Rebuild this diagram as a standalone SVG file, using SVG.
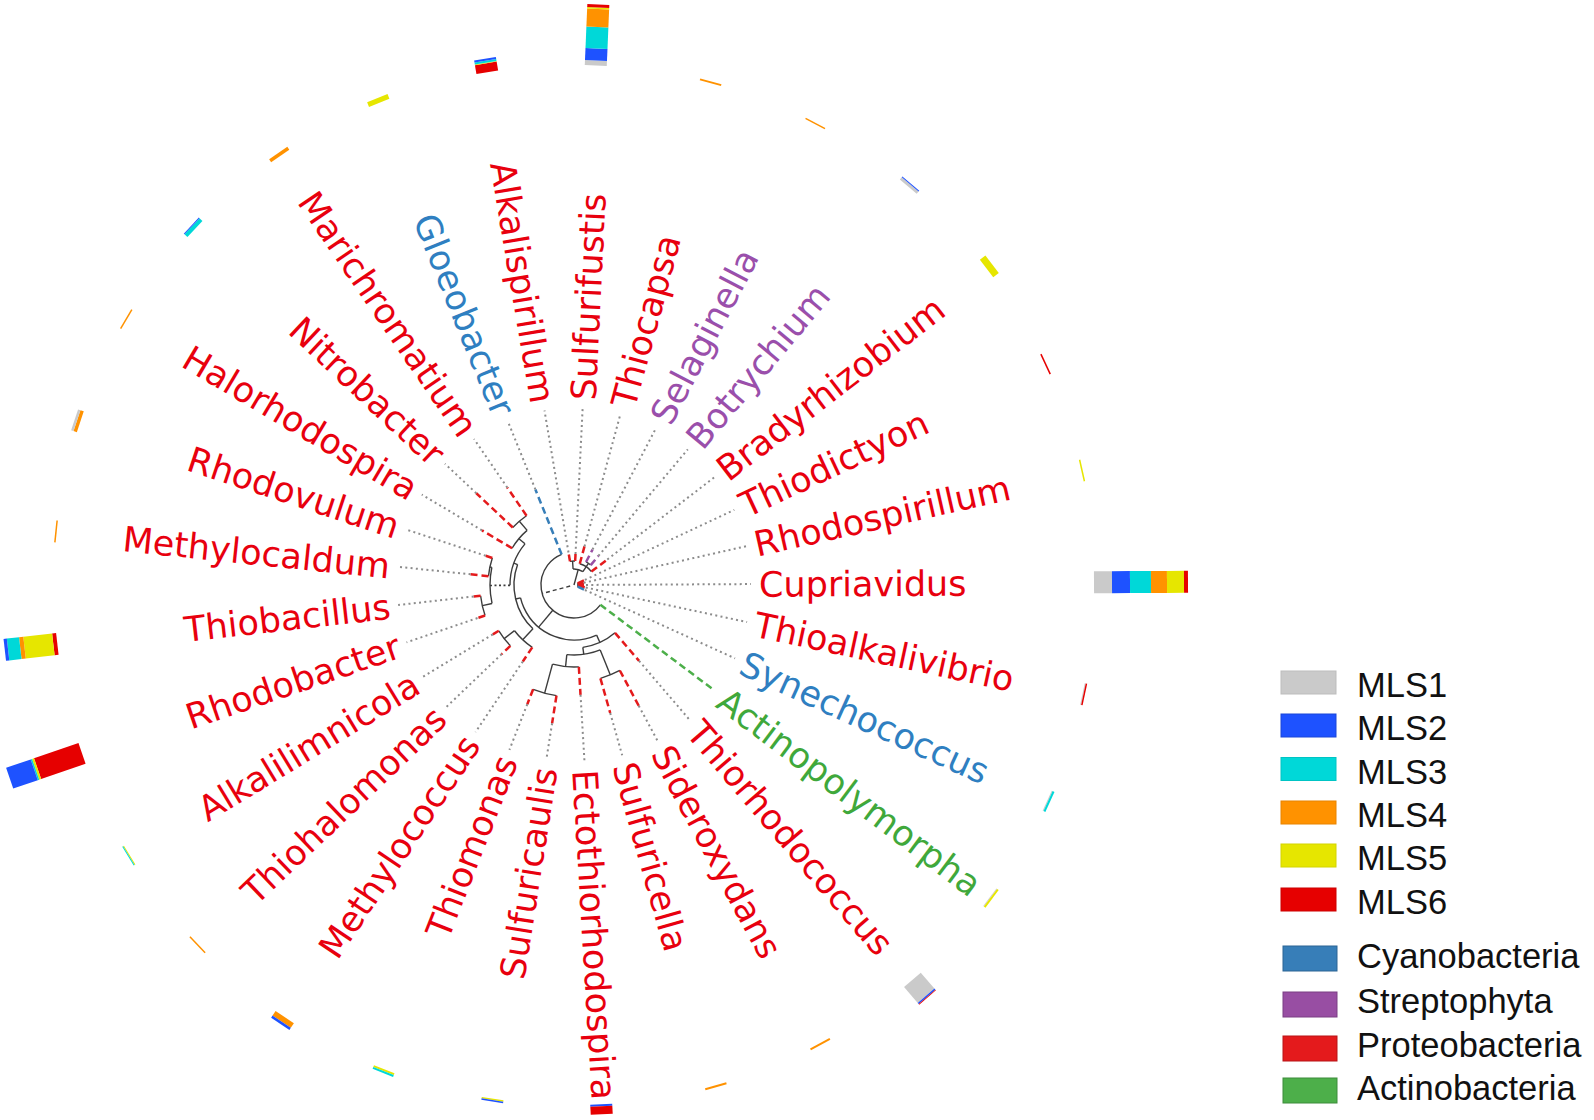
<svg xmlns="http://www.w3.org/2000/svg" width="1594" height="1120" viewBox="0 0 1594 1120">
<style>
.lab{font-family:"DejaVu Sans",Verdana,sans-serif;font-size:35px}
.p{fill:#e8000e}.c{fill:#2f7fc1}.s{fill:#9a4fab}.a{fill:#3fa83b}
.leg{font-family:"Liberation Sans",Arial,sans-serif;font-size:34.5px;fill:#111}
.k{stroke:#3c3c3c;stroke-width:1.4;fill:none}
.kd{stroke:#3c3c3c;stroke-width:1.4;stroke-dasharray:4 3;fill:none}
.kt{stroke:#3c3c3c;stroke-width:1.6;stroke-dasharray:2 2.5;fill:none}
.dot{stroke:#8c8c8c;stroke-width:2;stroke-dasharray:2 3.3;fill:none}
.tr{stroke:#e41a1c;stroke-width:2.5;stroke-dasharray:7 4}
.tb{stroke:#377eb8;stroke-width:2.5;stroke-dasharray:7 4}
.tv{stroke:#984ea3;stroke-width:2.5;stroke-dasharray:7 4}
.tg{stroke:#4daf4a;stroke-width:2.5;stroke-dasharray:7 4}
.m1{fill:#cacaca}.m2{fill:#1e52ff}.m3{fill:#00d8d8}.m4{fill:#ff9200}.m5{fill:#e6e600}.m6{fill:#e60000}
</style>
<g transform="translate(574 585)">
<g id="connectors">
<!-- center clade -->
<circle class="k" r="4" pathLength="360" stroke-dasharray="49.6 400" transform="rotate(334.9)"/>
<line class="tr" x1="4" x2="12" transform="rotate(334.9)"/>
<line class="tr" x1="4" x2="10" transform="rotate(347.3)"/>
<line class="tr" x1="4" x2="10" transform="rotate(-0.3)"/>
<line class="tr" x1="4" x2="12" transform="rotate(12.1)"/>
<line class="tb" x1="4" x2="12" transform="rotate(24.5)"/>
<!-- upper clade -->
<line class="k" x1="0" x2="16" transform="rotate(285.2)"/>
<circle class="k" r="16" pathLength="360" stroke-dasharray="37.2 400" transform="rotate(266.6)"/>
<line class="k" x1="16" x2="24" transform="rotate(266.6)"/>
<circle class="k" r="24" pathLength="360" stroke-dasharray="12.4 400" transform="rotate(260.4)"/>
<line class="tr" x1="24" x2="33" transform="rotate(260.4)"/>
<line class="tr" x1="24" x2="31" transform="rotate(272.8)"/>
<line class="k" x1="16" x2="22" transform="rotate(303.8)"/>
<circle class="k" r="22" pathLength="360" stroke-dasharray="37.3 400" transform="rotate(285.2)"/>
<line class="tr" x1="22" x2="40" transform="rotate(285.2)"/>
<line class="k" x1="22" x2="26" transform="rotate(303.8)"/>
<circle class="k" r="26" pathLength="360" stroke-dasharray="12.4 400" transform="rotate(297.6)"/>
<line class="tv" x1="26" x2="40" transform="rotate(297.6)"/>
<line class="tv" x1="26" x2="38" transform="rotate(310)"/>
<line class="tr" x1="22" x2="42" transform="rotate(322.5)"/>
<!-- big clade -->
<line class="kd" x1="4" x2="33" transform="rotate(165)"/>
<circle class="k" r="33" pathLength="360" stroke-dasharray="211.1 400" transform="rotate(36.9)"/>
<line class="tg" x1="33" x2="172" transform="rotate(36.9)"/>
<line class="tb" x1="33" x2="103" transform="rotate(248)"/>
<line class="k" x1="33" x2="55" transform="rotate(130)"/>
<circle class="k" r="55" pathLength="360" stroke-dasharray="100.8 400" transform="rotate(65.7)"/>
<!-- lower clade -->
<line class="k" x1="55" x2="63" transform="rotate(65.7)"/>
<circle class="k" r="63" pathLength="360" stroke-dasharray="32.55 400" transform="rotate(49.4)"/>
<line class="tr" x1="63" x2="100" transform="rotate(49.4)"/>
<line class="k" x1="63" x2="70" transform="rotate(81.95)"/>
<circle class="k" r="70" pathLength="360" stroke-dasharray="27.9 400" transform="rotate(68)"/>
<line class="k" x1="70" x2="97" transform="rotate(68)"/>
<circle class="k" r="97" pathLength="360" stroke-dasharray="12.4 400" transform="rotate(61.8)"/>
<line class="tr" x1="97" x2="137" transform="rotate(61.8)"/>
<line class="tr" x1="97" x2="133" transform="rotate(74.2)"/>
<line class="k" x1="70" x2="82" transform="rotate(95.9)"/>
<circle class="k" r="82" pathLength="360" stroke-dasharray="18.6 400" transform="rotate(86.6)"/>
<line class="tr" x1="82" x2="110" transform="rotate(86.6)"/>
<line class="k" x1="82" x2="112" transform="rotate(105.2)"/>
<circle class="k" r="112" pathLength="360" stroke-dasharray="12.4 400" transform="rotate(99)"/>
<line class="tr" x1="112" x2="140" transform="rotate(99)"/>
<line class="tr" x1="112" x2="128" transform="rotate(111.4)"/>
<!-- left clade -->
<line class="k" x1="55" x2="60" transform="rotate(166.5)"/>
<circle class="k" r="60" pathLength="360" stroke-dasharray="66.75 400" transform="rotate(133.15)"/>
<line class="k" x1="60" x2="75" transform="rotate(133.15)"/>
<circle class="k" r="75" pathLength="360" stroke-dasharray="18.7 400" transform="rotate(123.8)"/>
<line class="tr" x1="75" x2="92" transform="rotate(123.8)"/>
<line class="k" x1="75" x2="88" transform="rotate(142.5)"/>
<circle class="k" r="88" pathLength="360" stroke-dasharray="12.4 400" transform="rotate(136.3)"/>
<line class="tr" x1="88" x2="100" transform="rotate(136.3)"/>
<line class="tr" x1="88" x2="95" transform="rotate(148.7)"/>
<line class="k" x1="60" x2="64" transform="rotate(199.9)"/>
<circle class="k" r="64" pathLength="360" stroke-dasharray="40.35 400" transform="rotate(179.7)"/>
<line class="kt" x1="64" x2="84" transform="rotate(179.7)"/>
<circle class="k" r="84" pathLength="360" stroke-dasharray="24.8 400" transform="rotate(167.3)"/>
<line class="k" x1="84" x2="94" transform="rotate(167.3)"/>
<circle class="k" r="94" pathLength="360" stroke-dasharray="12.4 400" transform="rotate(161.1)"/>
<line class="tr" x1="94" x2="102" transform="rotate(161.1)"/>
<line class="tr" x1="94" x2="101" transform="rotate(173.5)"/>
<line class="k" x1="84" x2="86" transform="rotate(192.1)"/>
<circle class="k" r="86" pathLength="360" stroke-dasharray="12.4 400" transform="rotate(185.9)"/>
<line class="tr" x1="86" x2="104" transform="rotate(185.9)"/>
<line class="tr" x1="86" x2="93" transform="rotate(198.3)"/>
<line class="k" x1="64" x2="72" transform="rotate(220.05)"/>
<circle class="k" r="72" pathLength="360" stroke-dasharray="18.7 400" transform="rotate(210.7)"/>
<line class="tr" x1="72" x2="107" transform="rotate(210.7)"/>
<line class="k" x1="72" x2="84" transform="rotate(229.4)"/>
<circle class="k" r="84" pathLength="360" stroke-dasharray="12.4 400" transform="rotate(223.2)"/>
<line class="tr" x1="84" x2="134" transform="rotate(223.2)"/>
<line class="tr" x1="84" x2="118" transform="rotate(235.6)"/>
<!-- dotted label guides -->
<line class="dot" x1="12" x2="177" transform="rotate(-0.3)"/>
<line class="dot" x1="12" x2="177" transform="rotate(12.1)"/>
<line class="dot" x1="12" x2="177" transform="rotate(24.5)"/>
<line class="dot" x1="100" x2="177" transform="rotate(49.4)"/>
<line class="dot" x1="137" x2="177" transform="rotate(61.8)"/>
<line class="dot" x1="133" x2="177" transform="rotate(74.2)"/>
<line class="dot" x1="110" x2="177" transform="rotate(86.6)"/>
<line class="dot" x1="140" x2="177" transform="rotate(99)"/>
<line class="dot" x1="128" x2="177" transform="rotate(111.4)"/>
<line class="dot" x1="92" x2="177" transform="rotate(123.8)"/>
<line class="dot" x1="100" x2="177" transform="rotate(136.3)"/>
<line class="dot" x1="95" x2="177" transform="rotate(148.7)"/>
<line class="dot" x1="102" x2="177" transform="rotate(161.1)"/>
<line class="dot" x1="101" x2="177" transform="rotate(173.5)"/>
<line class="dot" x1="104" x2="177" transform="rotate(185.9)"/>
<line class="dot" x1="93" x2="177" transform="rotate(198.3)"/>
<line class="dot" x1="107" x2="177" transform="rotate(210.7)"/>
<line class="dot" x1="134" x2="177" transform="rotate(223.2)"/>
<line class="dot" x1="118" x2="177" transform="rotate(235.6)"/>
<line class="dot" x1="103" x2="177" transform="rotate(248)"/>
<line class="dot" x1="33" x2="177" transform="rotate(260.4)"/>
<line class="dot" x1="31" x2="177" transform="rotate(272.8)"/>
<line class="dot" x1="40" x2="177" transform="rotate(285.2)"/>
<line class="dot" x1="40" x2="177" transform="rotate(297.6)"/>
<line class="dot" x1="38" x2="177" transform="rotate(310)"/>
<line class="dot" x1="42" x2="177" transform="rotate(322.5)"/>
<line class="dot" x1="12" x2="177" transform="rotate(334.9)"/>
<line class="dot" x1="10" x2="177" transform="rotate(347.3)"/>
</g>
<!-- taxa: label + stacked bar -->
<g id="t00"><text class="lab p" transform="rotate(-0.3) translate(185 0)" dy="12.7">Cupriavidus</text>
<g transform="rotate(-0.3)"><rect class="m1" x="520" y="-11" width="18" height="22"/><rect class="m2" x="538" y="-11" width="18" height="22"/><rect class="m3" x="556" y="-11" width="21" height="22"/><rect class="m4" x="577" y="-11" width="16" height="22"/><rect class="m5" x="593" y="-11" width="17" height="22"/><rect class="m6" x="610" y="-11" width="4" height="22"/></g></g>
<g id="t01"><text class="lab p" transform="rotate(12.1) translate(185 0)" dy="12.7">Thioalkalivibrio</text>
<g transform="rotate(12.1)"><rect class="m1" x="520" y="-11" width="1" height="22"/><rect class="m6" x="521" y="-11" width="1.5" height="22"/></g></g>
<g id="t02"><text class="lab c" transform="rotate(24.5) translate(185 0)" dy="12.7">Synechococcus</text>
<g transform="rotate(24.5)"><rect class="m1" x="520" y="-11" width="1" height="22"/><rect class="m3" x="521" y="-11" width="2" height="22"/></g></g>
<g id="t03"><text class="lab a" transform="rotate(36.9) translate(185 0)" dy="12.7">Actinopolymorpha</text>
<g transform="rotate(36.9)"><rect class="m1" x="520" y="-11" width="0.8" height="22"/><rect class="m5" x="520.8" y="-11" width="2" height="22"/></g></g>
<g id="t04"><text class="lab p" transform="rotate(49.4) translate(185 0)" dy="12.7">Thiorhodococcus</text>
<g transform="rotate(49.4)"><rect class="m1" x="520" y="-11" width="21" height="22"/><rect class="m2" x="541" y="-11" width="1.5" height="22"/><rect class="m6" x="542.5" y="-11" width="0.8" height="22"/></g></g>
<g id="t05"><text class="lab p" transform="rotate(61.8) translate(185 0)" dy="12.7">Sideroxydans</text>
<g transform="rotate(61.8)"><rect class="m4" x="520" y="-11" width="2" height="22"/></g></g>
<g id="t06"><text class="lab p" transform="rotate(74.2) translate(185 0)" dy="12.7">Sulfuricella</text>
<g transform="rotate(74.2)"><rect class="m4" x="520" y="-11" width="2" height="22"/></g></g>
<g id="t07"><text class="lab p" transform="rotate(86.6) translate(185 0)" dy="12.7">Ectothiorhodospira</text>
<g transform="rotate(87)"><rect class="m2" x="520" y="-11" width="2" height="22"/><rect class="m6" x="522" y="-11" width="8" height="22"/></g></g>
<g id="t08"><text class="lab p" transform="rotate(-81) translate(-185 0)" dy="12.7" text-anchor="end">Sulfuricaulis</text>
<g transform="rotate(99)"><rect class="m5" x="520" y="-11" width="1.5" height="22"/><rect class="m2" x="521.5" y="-11" width="1.5" height="22"/></g></g>
<g id="t09"><text class="lab p" transform="rotate(-68.6) translate(-185 0)" dy="12.7" text-anchor="end">Thiomonas</text>
<g transform="rotate(111.4)"><rect class="m5" x="520" y="-11" width="2" height="22"/><rect class="m3" x="522" y="-11" width="2" height="22"/></g></g>
<g id="t10"><text class="lab p" transform="rotate(-56.2) translate(-185 0)" dy="12.7" text-anchor="end">Methylococcus</text>
<g transform="rotate(123.8)"><rect class="m4" x="520" y="-11" width="5.5" height="22"/><rect class="m2" x="525.5" y="-11" width="2.5" height="22"/></g></g>
<g id="t11"><text class="lab p" transform="rotate(-43.7) translate(-185 0)" dy="12.7" text-anchor="end">Thiohalomonas</text>
<g transform="rotate(136.3)"><rect class="m4" x="520" y="-11" width="1.5" height="22"/></g></g>
<g id="t12"><text class="lab p" transform="rotate(-31.3) translate(-185 0)" dy="12.7" text-anchor="end">Alkalilimnicola</text>
<g transform="rotate(148.7)"><rect class="m5" x="520" y="-11" width="1" height="22"/><rect class="m3" x="521" y="-11" width="1" height="22"/></g></g>
<g id="t13"><text class="lab p" transform="rotate(-18.9) translate(-185 0)" dy="12.7" text-anchor="end">Rhodobacter</text>
<g transform="rotate(161.1)"><rect class="m6" x="520" y="-11" width="47" height="22"/><rect class="m5" x="567" y="-11" width="2" height="22"/><rect class="m3" x="569" y="-11" width="1.5" height="22"/><rect class="m2" x="570.5" y="-11" width="26" height="22"/></g></g>
<g id="t14"><text class="lab p" transform="rotate(-6.5) translate(-185 0)" dy="12.7" text-anchor="end">Thiobacillus</text>
<g transform="rotate(173.5)"><rect class="m6" x="520" y="-11" width="4" height="22"/><rect class="m5" x="524" y="-11" width="29" height="22"/><rect class="m4" x="553" y="-11" width="4.3" height="22"/><rect class="m3" x="557.3" y="-11" width="12.3" height="22"/><rect class="m2" x="569.6" y="-11" width="3.3" height="22"/></g></g>
<g id="t15"><text class="lab p" transform="rotate(5.9) translate(-185 0)" dy="12.7" text-anchor="end">Methylocaldum</text>
<g transform="rotate(185.9)"><rect class="m4" x="520" y="-11" width="1.5" height="22"/></g></g>
<g id="t16"><text class="lab p" transform="rotate(18.3) translate(-185 0)" dy="12.7" text-anchor="end">Rhodovulum</text>
<g transform="rotate(198.3)"><rect class="m4" x="520" y="-11" width="3.5" height="22"/><rect class="m1" x="523.5" y="-11" width="2.5" height="22"/></g></g>
<g id="t17"><text class="lab p" transform="rotate(30.7) translate(-185 0)" dy="12.7" text-anchor="end">Halorhodospira</text>
<g transform="rotate(210.7)"><rect class="m4" x="520" y="-11" width="1.5" height="22"/></g></g>
<g id="t18"><text class="lab p" transform="rotate(43.2) translate(-185 0)" dy="12.7" text-anchor="end">Nitrobacter</text>
<g transform="rotate(223.2)"><rect class="m3" x="520" y="-11" width="4" height="22"/><rect class="m2" x="524" y="-11" width="1" height="22"/></g></g>
<g id="t19"><text class="lab p" transform="rotate(55.6) translate(-185 0)" dy="12.7" text-anchor="end">Marichromatium</text>
<g transform="rotate(235.6)"><rect class="m4" x="520" y="-11" width="3.5" height="22"/></g></g>
<g id="t20"><text class="lab c" transform="rotate(68) translate(-185 0)" dy="12.7" text-anchor="end">Gloeobacter</text>
<g transform="rotate(248)"><rect class="m5" x="520" y="-11" width="5" height="22"/></g></g>
<g id="t21"><text class="lab p" transform="rotate(80.4) translate(-185 0)" dy="12.7" text-anchor="end">Alkalispirillum</text>
<g transform="rotate(260.4)"><rect class="m6" x="520" y="-11" width="9" height="22"/><rect class="m5" x="529" y="-11" width="0.7" height="22"/><rect class="m3" x="529.7" y="-11" width="2" height="22"/><rect class="m2" x="531.7" y="-11" width="2" height="22"/></g></g>
<g id="t22"><text class="lab p" transform="rotate(272.8) translate(185 0)" dy="12.7">Sulfurifustis</text>
<g transform="rotate(272.4)"><rect class="m1" x="520" y="-11" width="5" height="22"/><rect class="m2" x="525" y="-11" width="12" height="22"/><rect class="m3" x="537" y="-11" width="21.5" height="22"/><rect class="m4" x="558.5" y="-11" width="18" height="22"/><rect class="m5" x="576.5" y="-11" width="1.5" height="22"/><rect class="m6" x="578" y="-11" width="3" height="22"/></g></g>
<g id="t23"><text class="lab p" transform="rotate(285.2) translate(185 0)" dy="12.7">Thiocapsa</text>
<g transform="rotate(285.2)"><rect class="m4" x="520" y="-11" width="2" height="22"/></g></g>
<g id="t24"><text class="lab s" transform="rotate(297.6) translate(185 0)" dy="12.7">Selaginella</text>
<g transform="rotate(297.6)"><rect class="m4" x="520" y="-11" width="1.5" height="22"/></g></g>
<g id="t25"><text class="lab s" transform="rotate(310) translate(185 0)" dy="12.7">Botrychium</text>
<g transform="rotate(310)"><rect class="m1" x="520" y="-11" width="3" height="22"/><rect class="m2" x="523" y="-11" width="1" height="22"/></g></g>
<g id="t26"><text class="lab p" transform="rotate(322.5) translate(185 0)" dy="12.7">Bradyrhizobium</text>
<g transform="rotate(322.5)"><rect class="m5" x="520" y="-11" width="7" height="22"/></g></g>
<g id="t27"><text class="lab p" transform="rotate(334.9) translate(185 0)" dy="12.7">Thiodictyon</text>
<g transform="rotate(334.9)"><rect class="m6" x="520" y="-11" width="1.5" height="22"/></g></g>
<g id="t28"><text class="lab p" transform="rotate(347.3) translate(185 0)" dy="12.7">Rhodospirillum</text>
<g transform="rotate(347.3)"><rect class="m5" x="520" y="-11" width="1.5" height="22"/></g></g>
</g>
<g id="legend">
<g id="leg-mls1"><rect x="1281" y="671" width="55" height="23" fill="#cacaca" stroke="#bdbdbd"/><text class="leg" x="1357" y="697">MLS1</text></g>
<g id="leg-mls2"><rect x="1281" y="714" width="55" height="23" fill="#1e52ff" stroke="#1a46d8"/><text class="leg" x="1357" y="740">MLS2</text></g>
<g id="leg-mls3"><rect x="1281" y="757.5" width="55" height="23" fill="#00d8d8" stroke="#00c4c4"/><text class="leg" x="1357" y="784">MLS3</text></g>
<g id="leg-mls4"><rect x="1281" y="801" width="55" height="23" fill="#ff9200" stroke="#e88400"/><text class="leg" x="1357" y="827">MLS4</text></g>
<g id="leg-mls5"><rect x="1281" y="844" width="55" height="23" fill="#e6e600" stroke="#d4d400"/><text class="leg" x="1357" y="870">MLS5</text></g>
<g id="leg-mls6"><rect x="1281" y="888" width="55" height="23" fill="#e60000" stroke="#cc0000"/><text class="leg" x="1357" y="914">MLS6</text></g>
<g id="leg-cyano"><rect x="1283" y="946" width="54" height="25" fill="#377eb8" stroke="#2c6594"/><text class="leg" x="1357" y="968">Cyanobacteria</text></g>
<g id="leg-strepto"><rect x="1283" y="992" width="54" height="25" fill="#984ea3" stroke="#7a3e83"/><text class="leg" x="1357" y="1013">Streptophyta</text></g>
<g id="leg-proteo"><rect x="1283" y="1036" width="54" height="25" fill="#e41a1c" stroke="#b71416"/><text class="leg" x="1357" y="1057">Proteobacteria</text></g>
<g id="leg-actino"><rect x="1283" y="1078" width="54" height="25" fill="#4daf4a" stroke="#3d8c3b"/><text class="leg" x="1357" y="1100">Actinobacteria</text></g>
</g>
</svg>
